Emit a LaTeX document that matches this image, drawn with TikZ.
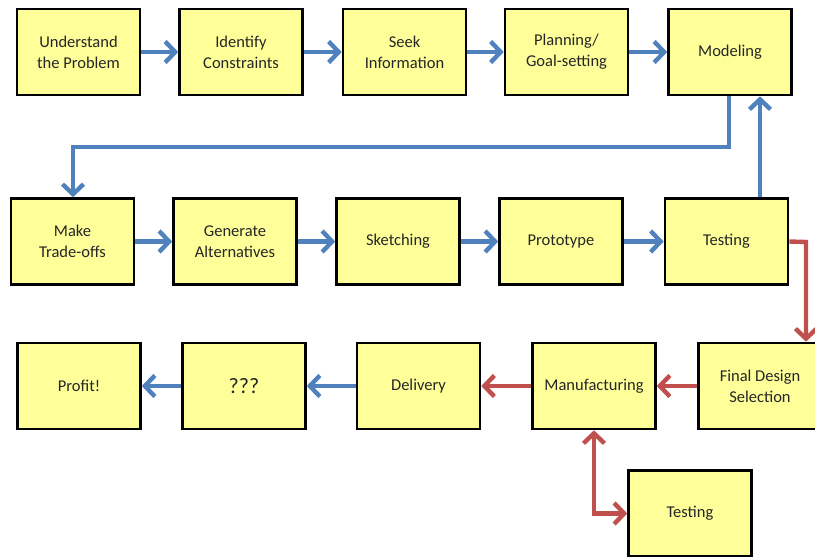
\documentclass[tikz,border=0pt]{standalone}
\usepackage{fontspec}
\setmainfont{Carlito}
\usetikzlibrary{arrows.meta}
\definecolor{boxfill}{HTML}{FFFF99}
\definecolor{bluearr}{HTML}{4F81BD}
\definecolor{redarr}{HTML}{C0504D}
\begin{document}
\begin{tikzpicture}[x=1pt,y=-1pt,
  box/.style={draw=black, line width=2.6pt, fill=boxfill, minimum width=123pt, minimum height=86pt,
    align=center, inner sep=0pt, font=\fontsize{16.5}{21}\selectfont, text=black!85},
  tipb/.tip={Straight Barb[length=10pt,width=21pt]},
  barr/.style={draw=bluearr, line width=4.4pt, -tipb},
  rarr/.style={draw=redarr, line width=4.4pt, -tipb},
  rarrb/.style={draw=redarr, line width=4.4pt, tipb-tipb}]
\useasboundingbox (0,0) rectangle (815,557);
\clip (0,0) rectangle (815,557);
% top row
\node[box] (u) at (78.5,52) {Understand\\the Problem};
\node[box] (ic) at (241,52) {Identify\\Constraints};
\node[box] (si) at (404.5,52) {Seek\\Information};
\node[box] (pg) at (566.5,52) {Planning/\\Goal-setting};
\node[box] (mo) at (730,52) {Modeling};
% middle row
\node[box] (mt) at (72.5,241.5) {Make\\Trade-offs};
\node[box] (ga) at (235,241.5) {Generate\\Alternatives};
\node[box] (sk) at (398,241.5) {Sketching};
\node[box] (pr) at (561,241.5) {Prototype};
\node[box] (te) at (726.5,241.5) {Testing};
% bottom row
\node[box] (pf) at (79,386) {Profit!};
\node[box, font=\fontsize{22}{26}\selectfont] (qq) at (244,386) {???};
\node[box] (de) at (418.5,386) {Delivery};
\node[box] (ma) at (594,386) {Manufacturing};
\node[box] (fd) at (760,386) {Final Design\\Selection};
\node[box] (t2) at (690,513.5) {Testing};
% coordinates
\coordinate (m1) at (729,147);
\coordinate (m2) at (73,147);
\coordinate (r1) at (806,242);
% blue arrows
\draw[barr] (u) -- (ic);
\draw[barr] (ic) -- (si);
\draw[barr] (si) -- (pg);
\draw[barr] (pg) -- (mo);
\draw[barr] (mt) -- (ga);
\draw[barr] (ga) -- (sk);
\draw[barr] (sk) -- (pr);
\draw[barr] (pr) -- (te);
\draw[barr] (mo.south -| m1) |- (m2) -- (mt.north -| m2);
\draw[barr] (te.north -| 760,0) -- (mo.south -| 760,0);
\draw[barr] (de) -- (qq);
\draw[barr] (qq) -- (pf);
% red arrows
\draw[rarr] (te.east) -- (r1) -- (fd.north -| r1);
\draw[rarr] (fd) -- (ma);
\draw[rarr] (ma) -- (de);
\draw[rarrb] (ma.south) |- (t2.west);
\end{tikzpicture}
\end{document}
